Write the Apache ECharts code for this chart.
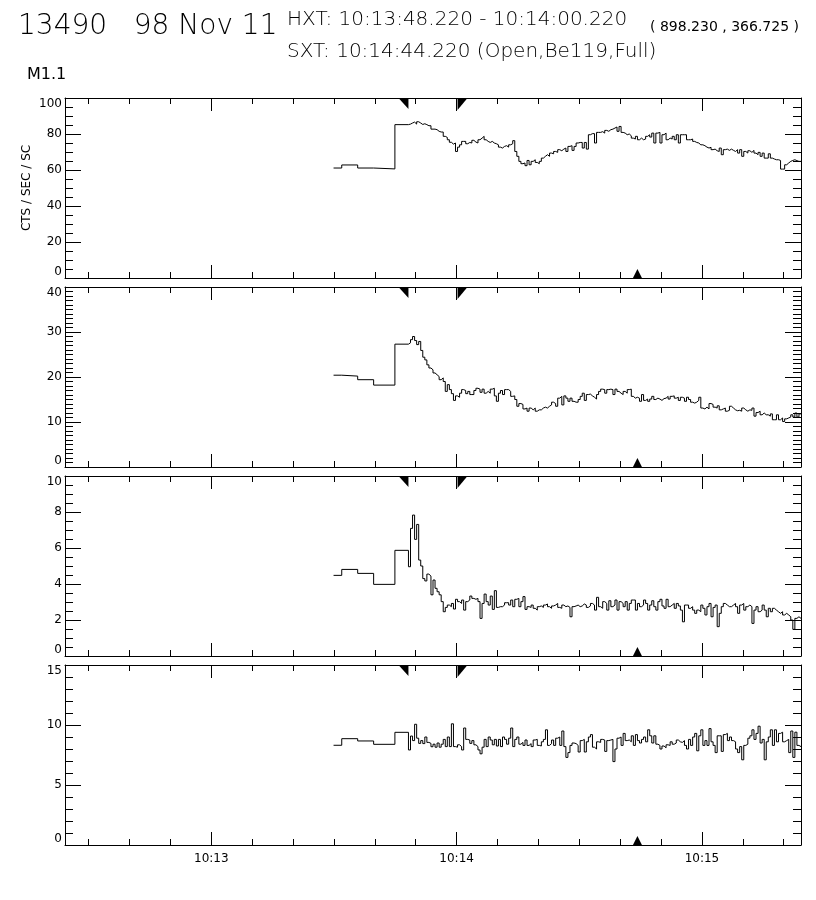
<!DOCTYPE html>
<html>
<head>
<meta charset="utf-8">
<script src="https://cdn.jsdelivr.net/npm/echarts@6/dist/echarts.min.js"></script>
<style>
html,body{margin:0;padding:0;background:#fff;}
#chart{width:816px;height:900px;}
</style>
</head>
<body>
<div id="chart"></div>
<script>
// ---- time axis (seconds after 10:00:00) ----
const xMin = 744.22, xMax = 924.22;
const majorTicks = [780, 840, 900];
const tickLabels = ['10:13', '10:14', '10:15'];
const minorTicks = [750,760,770,780,790,800,810,820,830,840,850,860,870,880,890,900,910,920];
const hxtStart = 828.22, hxtEnd = 840.22, sxtTime = 884.22;

// coarse bins (edges of 5 bins) then 0.5 s bins
const coarseEdges = [809.9, 811.9, 815.8, 819.7, 824.9];
const fineStart = 828.22, fineStep = 0.5;

// panel maxima / intervals
const yMax = [100, 40, 10, 15];
const yMajor = [20, 10, 2, 5];
const yMinorSplit = [4, 10, 4, 5];

// ---- panel 1 ----
const coarse1 = [61.1, 62.8, 61.1, 60.6, 85.2];
const fine1 = [
85.5,86.1,86.6,85.5,86.8,86.1,85.3,85.7,85.2,84.6,84.6,82.7,82.7,82.4,81.5,81.1,81.1,78.7,78.1,76.8,
75.4,74.4,75,70.3,72.7,74,75.9,75.9,74.6,75.3,75,76.5,75.5,75,76.8,77.7,78.7,76.8,75.9,75.3,
75.9,75,74.6,74,72.7,72.2,73.1,73.5,72.7,74,74.6,76.3,70.3,67.6,64.8,63.5,63.9,62.4,65.3,62.9,
64.8,65.7,64.2,63.5,64.8,66.6,67.6,68.5,67.6,69.4,69,70.3,69.8,71.3,70.7,71.6,72.2,70.3,73.1,73.5,
70.9,73.1,75,75.3,75.3,72.2,75.3,71.6,79.6,80.2,80.2,75,80.9,80.9,81.3,80.5,82,81.5,82.4,82.7,
83.3,83.9,81.5,84.2,80.9,80.5,79.6,80,79,77.7,77.2,78.7,76.8,77.7,76.8,77.2,78.7,79.6,78.3,80.5,
75,80.5,80.9,75,79.6,80.5,76.8,77.7,77.2,78.7,76.8,79.6,75,79.6,79.6,79.6,76.8,76.8,77.2,75.9,
75.3,75,74,74,73.5,72.7,72.2,72.6,71.3,71.6,70.7,70.3,72.2,68.5,71.3,71.6,70.9,71.6,70.9,70.3,
71.3,69.4,71.3,67.6,70.3,69.4,70.7,69.8,70.9,69.4,68.5,69.8,67.6,69.4,66.6,66.6,69,66.6,66.1,65.7,
65.7,65.3,60.5,60.5,62.9,63.9,64.8,65.3,65.7,65.2,64.8,64.8
];

// ---- panel 2 ----
const coarse2 = [20.4, 20.2, 19.4, 18.2, 27.3];
const fine2 = [
27.6,28.3,29.0,28.1,27.2,27.9,25.9,24.4,23.8,22.7,
22,21.6,20.9,20.5,20.1,19.4,19.8,19.0,16.8,18.3,
17.2,16.3,14.8,15.8,15.5,16.4,17.2,17,16.3,16.8,
16.1,16.1,17,17.5,17.3,16.6,17.3,16.4,16.8,16.4,
17.3,17.5,15.8,14.6,16.4,17,16.1,17.2,17.2,
16.8,15.7,15.8,15,13.5,14.1,13.9,12.9,13.1,12.4,
13.1,12.7,13.1,12.4,12.7,12.7,13.1,13.3,13.1,13.5,
13.8,14.4,14.1,13.5,15.3,15.7,13.8,15.8,15.3,14.6,
15.3,14.6,14.4,14.4,15,15.7,16.4,14.8,16.1,16.2,
15.8,15.5,15.1,16.1,16.8,17.3,17.2,16.4,17.2,
17.3,17.2,16.1,17.3,16.8,16.4,16.1,16.8,16.4,17.2,
17.3,15.7,15.3,15.5,15.3,14.6,16.1,14.8,15.1,14.6,
15.1,15.7,15,15.3,15.1,14.8,15.2,15.3,15.7,15.1,
15.7,15.8,15.3,15.5,14.8,15.5,15.3,14.6,15.5,15,
14.4,14.2,14.4,14.8,15.5,13.1,12.9,13.3,12.9,
14.1,13.9,13.3,13.1,13.6,12.7,12.9,13.1,12.4,12.6,
13.5,13.1,12.7,12.5,12.6,12.4,13.1,12.7,12.4,12.7,
12.6,13.1,11.3,12.1,12.4,11.6,12,11.6,11.6,11.3,
11.8,10.5,10.5,11.6,10.5,10.9,10.1,10.7,10.9,
11.1,11.6,11.1,12,11.1,11.8
];

// ---- panel 3 ----
const coarse3 = [4.48, 4.81, 4.59, 3.98, 5.87];
const fine3 = [
4.96,7.09,7.83,6.48,7.31,5.33,5.0,4.3,4.17,4.55,4.44,3.4,4.22,3.76,3.57,3.4,3.02,2.46,2.7,2.83,
2.74,2.92,2.61,3.15,3.02,2.92,3.11,2.55,3.02,3.11,3.33,3.2,3.15,3.2,3.02,2.09,2.92,3.44,3.02,2.83,
3.33,2.59,3.63,2.7,2.74,2.74,2.83,2.96,2.96,2.83,3.11,2.74,3.15,3.2,2.74,3.02,3.3,
2.59,2.74,2.7,2.83,2.65,2.55,2.74,2.78,2.7,2.83,
2.89,2.74,2.65,2.78,2.83,2.92,2.7,2.65,2.83,2.74,
2.78,2.7,2.18,2.74,
2.78,2.83,2.74,2.78,2.89,2.83,2.7,2.78,2.92,2.83,
2.55,3.26,2.74,2.65,
3.02,2.92,2.55,3.07,2.74,2.83,3.11,2.55,3.02,2.92,
2.74,3.02,2.55,2.92,3.11,3.11,2.55,2.92,2.74,2.83,
3.11,2.92,2.55,2.83,3.07,2.74,2.55,3.02,3.15,2.78,
2.65,3.15,2.74,2.83,2.92,2.65,2.92,2.78,2.55,1.9,
2.83,2.83,2.65,2.74,2.55,2.37,2.55,2.46,2.83,2.65,
2.28,2.74,2.92,2.18,2.7,2.83,1.63,2.37,2.74,2.92,
2.83,2.74,2.74,2.83,2.92,2.74,2.37,2.83,2.92,2.55,
2.74,2.83,2.74,1.81,2.55,2.74,2.46,2.55,2.83,2.55,
2.18,2.65,2.46,2.65,2.55,2.46,2.37,2.46,2.28,2.37,
2.28,2.18,2.0,1.48,2.09,2.18,2.09
];

// ---- panel 4 ----
const coarse4 = [8.31, 8.86, 8.67, 8.39, 9.39];
const fine4 = [
7.92,9.08,8.7,10.06,8.9,8.47,8.7,8.45,9.0,8.55,8.47,8.19,8.4,8.15,8.5,8.15,8.4,8.8,8.2,9.0,
8.2,10.1,8.2,8.15,8.35,8.2,7.92,9.75,8.8,8.75,8.47,8.7,8.35,8.2,7.92,7.6,8.15,8.8,8.2,9.0,
8.75,8.35,8.8,8.25,8.8,8.2,9.0,8.8,8.4,8.9,9.75,8.2,8.8,9.0,8.4,8.55,8.3,8.75,8.3,8.45,
8.2,8.75,8.8,8.3,8.25,8.6,8.8,9.6,8.3,8.45,8.75,8.3,8.9,9.0,8.3,9.5,8.2,7.3,7.7,8.3,
8.5,8.45,8.3,7.75,8.7,8.8,7.75,8.6,9.0,9.2,8.15,8.0,8.6,8.55,8.8,8.75,7.8,8.7,8.75,8.8,
6.95,8.0,8.9,9.0,8.3,9.3,8.7,8.75,8.6,9.1,8.3,9.2,8.7,8.5,8.8,9.0,8.6,9.6,9.1,8.5,
9.1,8.4,8.3,8.0,8.25,8.1,8.35,8.3,8.6,8.4,8.5,8.75,8.6,8.55,8.7,8.3,8.0,8.8,8.3,9.0,
9.3,7.85,9.1,9.6,8.3,8.7,8.3,9.7,8.6,8.3,7.7,9.1,9.1,7.8,9.2,9.3,8.7,9.0,8.7,8.6,
8.0,7.7,8.2,7.1,8.3,8.4,8.9,9.1,9.6,8.8,9.3,9.9,8.5,8.8,7.1,8.6,9.0,9.6,8.3,9.6,
8.6,9.3,9.4,8.6,8.7,8.8,7.7,9.5,7.3,9.4,8.3,8.2
];

const coarseAll = [coarse1, coarse2, coarse3, coarse4];
const fineAll = [fine1, fine2, fine3, fine4];

function buildSteps(coarse, fine) {
  const pts = [];
  coarse.forEach((v, i) => pts.push([coarseEdges[i], v]));
  fine.forEach((v, k) => pts.push([fineStart + fineStep * k, v]));
  pts.push([fineStart + fineStep * fine.length, fine[fine.length - 1]]);
  return pts;
}

const FONT = 'DejaVu Sans';
const tops = [98, 287, 476, 665];
const grids = [], xAxes = [], yAxes = [], series = [];
const black = '#000';

for (let i = 0; i < 4; i++) {
  grids.push({ left: 65, right: 15, top: tops[i], height: 180, containLabel: false });
  const isLast = i === 3;
  const baseX = {
    gridIndex: i, type: 'value', min: xMin, max: xMax,
    splitLine: { show: false }, minorTick: { show: false }
  };
  xAxes.push(Object.assign({}, baseX, {
    position: 'bottom',
    axisLine: { show: true, onZero: false, lineStyle: { color: black, width: 1 } },
    axisTick: { show: true, inside: true, length: 13, customValues: majorTicks, lineStyle: { color: black, width: 1 } },
    axisLabel: {
      show: isLast, customValues: majorTicks, margin: 8, color: black, fontSize: 12, fontFamily: FONT,
      formatter: v => { const j = majorTicks.findIndex(m => Math.abs(m - v) < 1e-6); return j >= 0 ? tickLabels[j] : ''; }
    }
  }));
  xAxes.push(Object.assign({}, baseX, {
    position: 'bottom',
    axisLine: { show: false, onZero: false },
    axisTick: { show: true, inside: true, length: 6, customValues: minorTicks, lineStyle: { color: black, width: 1 } },
    axisLabel: { show: false }
  }));
  xAxes.push(Object.assign({}, baseX, {
    position: 'top',
    axisLine: { show: true, onZero: false, lineStyle: { color: black, width: 1 } },
    axisTick: { show: true, inside: true, length: 13, customValues: majorTicks, lineStyle: { color: black, width: 1 } },
    axisLabel: { show: false }
  }));
  xAxes.push(Object.assign({}, baseX, {
    position: 'top',
    axisLine: { show: false, onZero: false },
    axisTick: { show: true, inside: true, length: 6, customValues: minorTicks, lineStyle: { color: black, width: 1 } },
    axisLabel: { show: false }
  }));

  const baseY = {
    gridIndex: i, type: 'value', min: 0, max: yMax[i], interval: yMajor[i],
    splitLine: { show: false }, minorSplitLine: { show: false },
    axisLine: { show: true, onZero: false, lineStyle: { color: black, width: 1 } },
    axisTick: { show: true, inside: true, length: 16, lineStyle: { color: black, width: 1 } },
    minorTick: { show: true, splitNumber: yMinorSplit[i], length: 8, lineStyle: { color: black, width: 1 } }
  };
  yAxes.push(Object.assign({}, baseY, {
    position: 'left',
    axisLabel: {
      show: true, margin: 3, color: black, fontSize: 12, fontFamily: FONT,
      verticalAlignMinLabel: 'bottom', verticalAlignMaxLabel: 'top'
    },
    name: i === 0 ? 'CTS / SEC / SC' : '',
    nameLocation: 'middle', nameGap: 32, nameRotate: 90, nameMoveOverlap: false,
    nameTextStyle: { color: black, fontSize: 12, fontFamily: FONT }
  }));
  yAxes.push(Object.assign({}, baseY, {
    position: 'right',
    axisLabel: { show: false }
  }));

  series.push({
    type: 'line', xAxisIndex: 4 * i, yAxisIndex: 2 * i,
    data: buildSteps(coarseAll[i], fineAll[i]),
    step: 'end', symbol: 'none', silent: true,
    lineStyle: { color: black, width: 1 },
    markPoint: {
      silent: true, label: { show: false }, itemStyle: { color: black },
      animation: false,
      data: [
        { coord: [hxtStart, yMax[i]], symbol: 'path://M0,0L10,0L10,11Z', symbolSize: [10, 11], symbolOffset: [-5, 5.5] },
        { coord: [hxtEnd, yMax[i]], symbol: 'path://M0,0L10,0L0,12Z', symbolSize: [10, 12], symbolOffset: [5, 6] },
        { coord: [sxtTime, 0], symbol: 'path://M0,9L4.5,0L9,9Z', symbolSize: [9, 9], symbolOffset: [0, -4.5] }
      ]
    }
  });
}

const chart = echarts.init(document.getElementById('chart'), null, { renderer: 'canvas' });
chart.setOption({
  animation: false,
  backgroundColor: '#fff',
  grid: grids,
  xAxis: xAxes,
  yAxis: yAxes,
  series: series,
  graphic: [
    { type: 'text', x: 18, y: 27, style: { text: '13490   98 Nov 11', fontSize: 28, fontFamily: FONT, fontWeight: 200, fill: black, verticalAlign: 'middle' } },
    { type: 'text', x: 287, y: 20, style: { text: 'HXT: 10:13:48.220 - 10:14:00.220', fontSize: 20, fontFamily: FONT, fontWeight: 200, fill: black, verticalAlign: 'middle' } },
    { type: 'text', x: 650, y: 27, style: { text: '( 898.230 , 366.725 )', fontSize: 14, fontFamily: FONT, fill: black, verticalAlign: 'middle' } },
    { type: 'text', x: 287, y: 52, style: { text: 'SXT: 10:14:44.220 (Open,Be119,Full)', fontSize: 20, fontFamily: FONT, fontWeight: 200, fill: black, verticalAlign: 'middle' } },
    { type: 'text', x: 27, y: 75, style: { text: 'M1.1', fontSize: 16, fontFamily: FONT, fill: black, verticalAlign: 'middle' } }
  ]
});
</script>
</body>
</html>
